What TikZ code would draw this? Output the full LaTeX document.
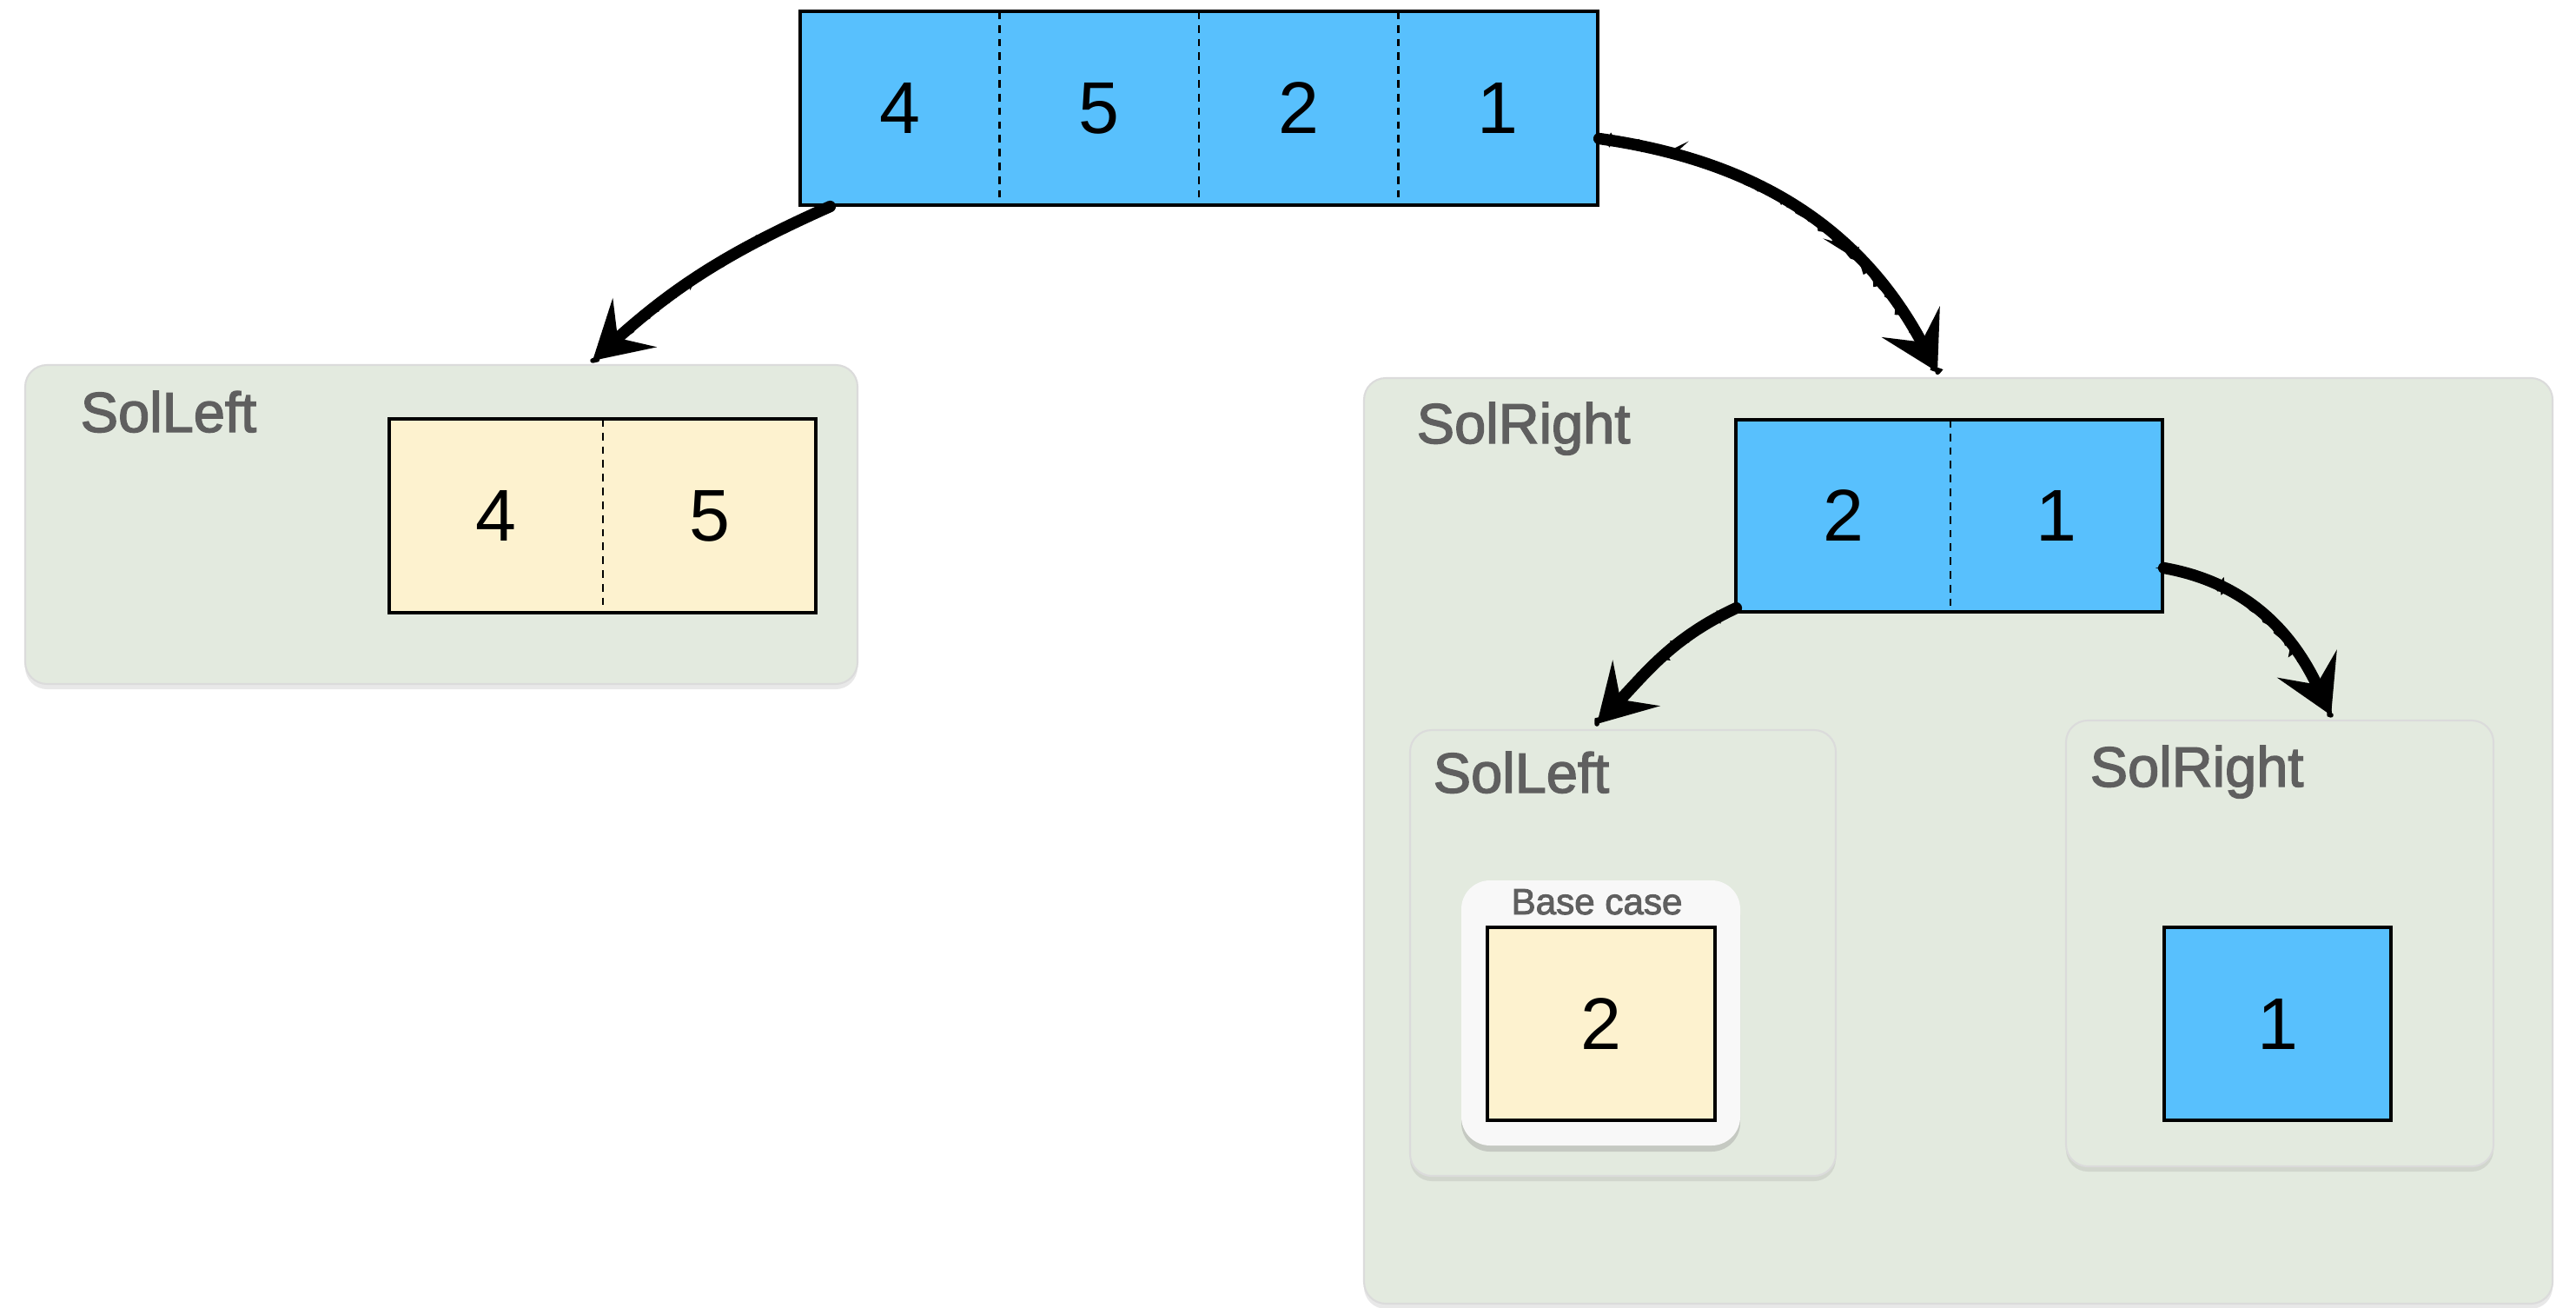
\documentclass[tikz,border=0pt]{standalone}
\usepackage{fontspec}
\setmainfont{Liberation Sans}
\newfontfamily\tagfont[FakeBold=2.2]{Liberation Sans}
\usetikzlibrary{arrows.meta,shadows,decorations.pathmorphing}

\definecolor{cellblue}{HTML}{58C0FD}
\definecolor{cellyellow}{HTML}{FDF2CF}
\definecolor{solgreen}{HTML}{E3EADF}
\definecolor{taggrey}{HTML}{5F5F5F}
\definecolor{basewhite}{HTML}{F8F8F8}

\begin{document}
\begin{tikzpicture}[
    solbox/.style={fill=solgreen, draw=black!14, line width=0.6pt, rounded corners=0.25cm,
        drop shadow={opacity=0.18, shadow xshift=0pt, shadow yshift=-0.06cm}},
    basebox/.style={fill=basewhite, rounded corners=0.33cm,
        drop shadow={opacity=0.3, shadow xshift=0pt, shadow yshift=-0.07cm}},
    cell/.style={draw=black, line width=0.9pt, inner sep=0pt},
    divider/.style={line width=0.6pt, dash pattern=on 2.5pt off 2pt},
    digit/.style={font=\fontsize{24}{28}\selectfont},
    tag/.style={text=taggrey, font=\tagfont\fontsize{18.5}{22}\selectfont, anchor=base west, inner sep=0pt},
    chalk/.style={line width=3.8pt, line cap=round, -{Stealth[length=6.5mm,width=7.5mm,inset=2.6mm]},
        postaction={draw, -, line width=1.6pt, decorate,
            decoration={random steps, segment length=1.5pt, amplitude=1.1pt}}},
]
\useasboundingbox (0,0) rectangle (29.65,-15.04);

% containers
\path[solbox] (0.29,-4.20) rectangle (9.87,-7.87);
\path[solbox] (15.70,-4.35) rectangle (29.38,-15.00);
\path[solbox] (16.23,-8.40) rectangle (21.13,-13.53);
\path[solbox] (23.78,-8.29) rectangle (28.70,-13.42);
\path[basebox] (16.82,-10.13) rectangle (20.03,-13.18);

\node[tag] (lefttag) at (0.92,-4.97) {SolLeft};
\node[tag] (righttag) at (16.30,-5.10) {SolRight};
\node[tag] (rlefttag) at (16.49,-9.12) {SolLeft};
\node[tag] (rrighttag) at (24.05,-9.05) {SolRight};
\node[text=taggrey, font=\tagfont\fontsize{12}{14}\selectfont, anchor=base] (basetag) at (18.38,-10.52) {Base case};

% the whole array
\node[cell, fill=cellblue, minimum width=9.18cm, minimum height=2.23cm] (top) at (13.80,-1.245) {};
\foreach \x in {11.505,13.80,16.095}
    \draw[divider] (\x,-0.13) -- (\x,-2.36);
\node[digit] (t4) at (10.355,-1.245) {4};
\node[digit] (t5) at (12.65,-1.245) {5};
\node[digit] (t2) at (14.95,-1.245) {2};
\node[digit] (t1) at (17.24,-1.245) {1};

% left half
\node[cell, fill=cellyellow, minimum width=4.91cm, minimum height=2.23cm] (left) at (6.935,-5.935) {};
\draw[divider] (6.94,-4.82) -- (6.94,-7.05);
\node[digit] (l4) at (5.71,-5.935) {4};
\node[digit] (l5) at (8.165,-5.935) {5};

% right half
\node[cell, fill=cellblue, minimum width=4.91cm, minimum height=2.21cm] (right) at (22.435,-5.935) {};
\draw[divider] (22.45,-4.83) -- (22.45,-7.04);
\node[digit] (r2) at (21.215,-5.935) {2};
\node[digit] (r1) at (23.67,-5.935) {1};

% single cells
\node[cell, fill=cellyellow, minimum width=2.62cm, minimum height=2.22cm] (one2) at (18.43,-11.78) {};
\node[digit] at (one2) {2};
\node[cell, fill=cellblue, minimum width=2.61cm, minimum height=2.22cm] (one1) at (26.215,-11.78) {};
\node[digit] at (one1) {1};

% arrow ends
\coordinate (leftin) at (6.82,-4.15);
\coordinate (rightin) at (22.30,-4.28);
\coordinate (rleftin) at (18.38,-8.33);
\coordinate (rrightin) at (26.83,-8.23);

\draw[chalk] ([xshift=0.36cm]top.south west) to[out=204,in=42] (leftin);
\draw[chalk] ([yshift=-0.35cm]top.east) to[out=-8,in=118] (rightin);
\draw[chalk] ([xshift=0.02cm,yshift=0.06cm]right.south west) to[out=205,in=46] (rleftin);
\draw[chalk] ([yshift=-0.6cm]right.east) to[out=-10,in=115] (rrightin);
\end{tikzpicture}
\end{document}
